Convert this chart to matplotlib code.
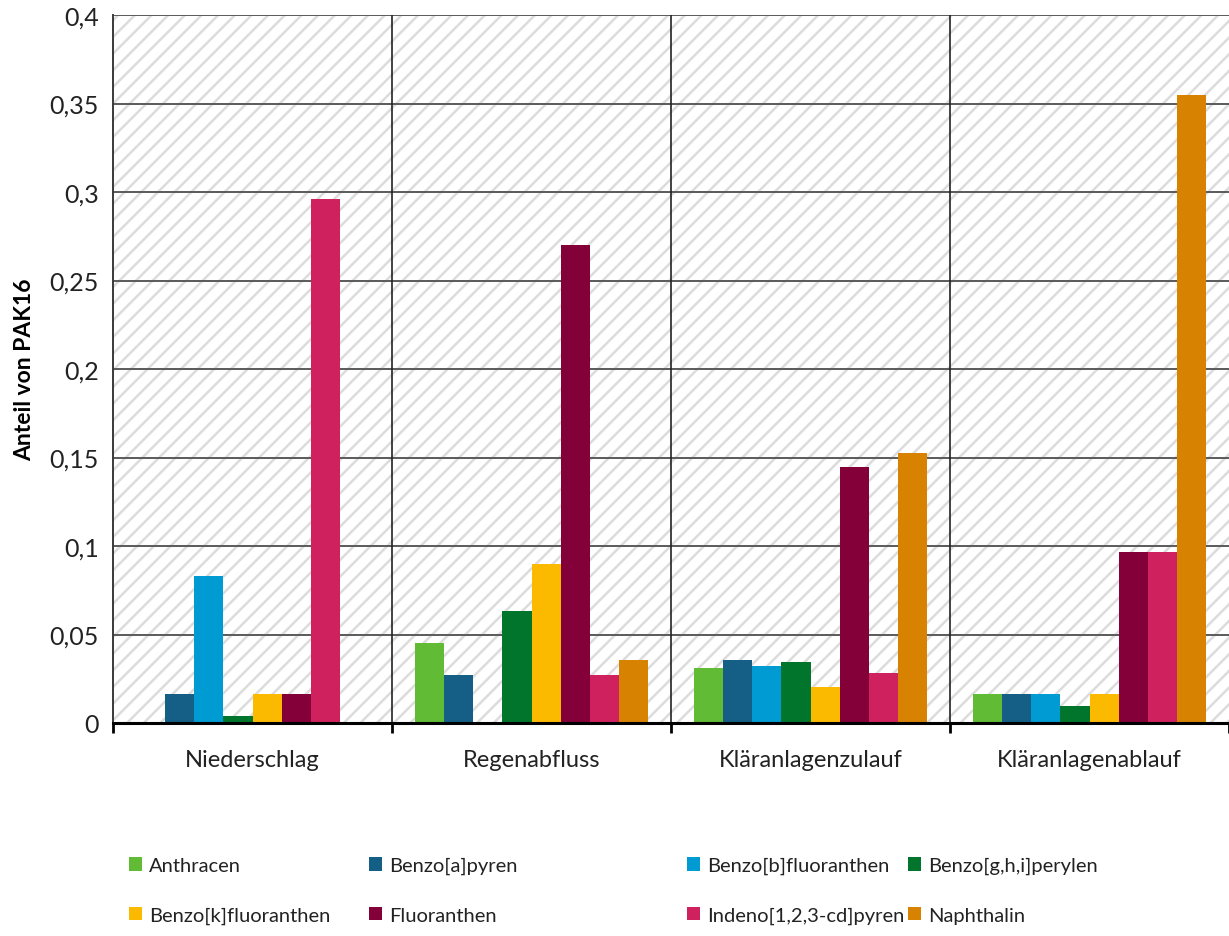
import matplotlib
matplotlib.use("Agg")
import numpy as np
from matplotlib import pyplot as plt
from matplotlib.patches import Rectangle, Patch
from matplotlib.ticker import FuncFormatter

plt.rcParams['font.family'] = ['Lato', 'DejaVu Sans']
plt.rcParams['hatch.linewidth'] = 1.8
plt.rcParams['hatch.color'] = '#dcdcdc'

categories = ['Niederschlag', 'Regenabfluss', 'Kläranlagenzulauf', 'Kläranlagenablauf']

substances = ['Anthracen', 'Benzo[a]pyren', 'Benzo[b]fluoranthen', 'Benzo[g,h,i]perylen',
              'Benzo[k]fluoranthen', 'Fluoranthen', 'Indeno[1,2,3-cd]pyren', 'Naphthalin']

colors = ['#62bb35', '#155e86', '#009bd3', '#00752b',
          '#fbba00', '#830039', '#cf215e', '#d78200']

# share of PAK16 per substance, one value per category
anthracen = [0.0, 0.045, 0.031, 0.0164]
benzo_a_pyren = [0.0164, 0.027, 0.0356, 0.0164]
benzo_b_fluoranthen = [0.083, 0.0, 0.032, 0.0164]
benzo_ghi_perylen = [0.004, 0.063, 0.0345, 0.0096]
benzo_k_fluoranthen = [0.0164, 0.09, 0.0203, 0.0164]
fluoranthen = [0.0164, 0.27, 0.1446, 0.0966]
indeno_pyren = [0.296, 0.027, 0.0283, 0.0966]
naphthalin = [0.0, 0.0356, 0.1525, 0.355]

series = [anthracen, benzo_a_pyren, benzo_b_fluoranthen, benzo_ghi_perylen,
          benzo_k_fluoranthen, fluoranthen, indeno_pyren, naphthalin]

fig = plt.figure(figsize=(12.29, 9.37), dpi=100)
ax = fig.add_axes([113 / 1229, 1 - 724 / 937, 1 - 113 / 1229, (724 - 16) / 937])

ax.set_xlim(0, len(categories))
ax.set_ylim(0, 0.4)

# hatched plot background
ax.add_patch(Rectangle((0, 0), 1, 1, transform=ax.transAxes, facecolor='white',
                       hatch='//', edgecolor='#dcdcdc', linewidth=0, zorder=0))

bar_w = 0.104
x = np.arange(len(categories)) + 0.5
for i, (vals, col, name) in enumerate(zip(series, colors, substances)):
    offs = (i - 3.5) * bar_w
    ax.bar(x + offs, vals, width=bar_w, color=col, label=name, zorder=3, linewidth=0)

# gridlines
for yv in np.arange(0.05, 0.401, 0.05):
    ax.axhline(yv, color='#5a5a5a', lw=1.4, zorder=1)
for xv in range(1, len(categories)):
    ax.axvline(xv, color='#222222', lw=1.2, zorder=1)

for s in ['top', 'right']:
    ax.spines[s].set_visible(False)
ax.spines['left'].set_color('#3a3a3a')
ax.spines['left'].set_linewidth(1.4)
ax.spines['bottom'].set_color('black')
ax.spines['bottom'].set_linewidth(2.2)
ax.spines['bottom'].set_zorder(5)

ax.set_yticks(np.arange(0, 0.401, 0.05))
ax.yaxis.set_major_formatter(FuncFormatter(lambda v, p: ('%g' % round(v, 2)).replace('.', ',')))
ax.tick_params(axis='y', length=0, labelsize=18, pad=10, labelcolor='#222222')

ax.set_xticks(x)
ax.set_xticklabels(categories)
ax.set_xticks(range(len(categories) + 1), minor=True)
ax.tick_params(axis='x', which='major', length=0, labelsize=17, pad=19, labelcolor='#222222')
ax.tick_params(axis='x', which='minor', length=7, width=2, color='black', direction='out')

ax.set_ylabel('Anteil von PAK16', fontsize=16.5, fontweight='bold')
ax.yaxis.set_label_coords(-0.07, 0.5)

# legend: four columns placed separately, two entries each
col_x = [129, 369, 687, 908]
for c in range(4):
    handles = []
    for r in range(2):
        idx = r * 4 + c
        handles.append(Patch(facecolor=colors[idx], label=substances[idx]))
    fig.legend(handles=handles, loc='upper left',
               bbox_to_anchor=(col_x[c] / 1229, 1 - 858 / 937),
               frameon=False, fontsize=14.5, handlelength=0.65, handleheight=0.65,
               handletextpad=0.35, labelspacing=1.6, borderpad=0, borderaxespad=0,
               labelcolor='#222222')

fig.savefig('out.png', dpi=100)
